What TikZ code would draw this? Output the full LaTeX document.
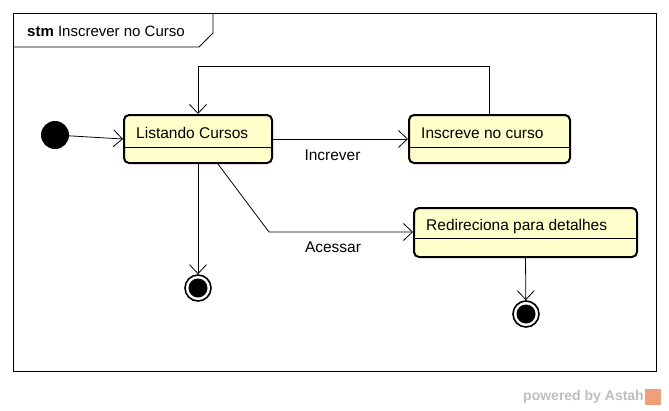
\documentclass[tikz,border=0pt]{standalone}
\usepackage{fontspec}
\setmainfont{Liberation Sans}
\usetikzlibrary{arrows.meta, positioning, calc}
\definecolor{kuningstate}{RGB}{255,255,204}
\definecolor{abuastah}{RGB}{190,190,190}
\definecolor{oranyeastah}{RGB}{240,160,120}

\begin{document}
\begin{tikzpicture}[x=1pt, y=-1pt, font=\fontsize{15.5}{18}\selectfont,
        state/.style={draw, line width=2pt, rounded corners=5pt, fill=kuningstate},
        initstate/.style={circle, fill=black, minimum size=28pt, inner sep=0pt},
        endstate/.style={circle, draw, line width=1.6pt, fill=white, minimum size=26pt, inner sep=0pt,
            path picture={\fill[black] (path picture bounding box.center) circle (9.5);}},
        trans/.style={-{Straight Barb[length=9pt, width=17pt]}, line width=0.8pt},
        translabel/.style={below=6pt, xshift=-8pt}]
        \useasboundingbox (0,0) rectangle (669,410);
        % frame
        \draw[line width=0.8pt] (13,13) rectangle (656,371);
        \draw[line width=0.8pt] (13,47) -- (199,47) -- (213,33) -- (213,13);
        \node[anchor=west, inner sep=0pt, font=\fontsize{15}{18}\selectfont] (judul) at (27,31) {\textbf{stm} Inscrever no Curso};
        % states
        \node[initstate] (awal) at (55,135) {};
        \foreach \nm/\cx/\cy/\w/\h/\dv/\lbl in {
            listando/198/139/148/48/8/{Listando Cursos},
            inscreve/489.5/139/161/48/8/{Inscreve no curso},
            redir/525.5/232.5/223/49/6/{Redireciona para detalhes}}
        {
            \node[state, minimum width=\w pt, minimum height=\h pt] (\nm) at (\cx,\cy) {};
            \draw[line width=0.8pt] ($(\nm.west)+(0,\dv)$) -- ($(\nm.east)+(0,\dv)$);
            \node[anchor=west, inner sep=0pt] at ($(\nm.north west)+(13,19)$) {\lbl};
        }
        \node[endstate] (akhir1) at (198,288) {};
        \node[endstate] (akhir2) at (526,314) {};
        \coordinate (belok) at (269,232);
        % transitions
        \draw[trans] (awal) -- (listando.west);
        \draw[trans] (listando) -- node[translabel, below=7pt] {Increver} (inscreve);
        \draw[trans] (inscreve.north) -- ++(0,-48) -| (listando.north);
        \draw[trans] ($(listando.south)+(20,0)$) -- (belok) -- node[translabel] {Acessar} (redir.west |- belok);
        \draw[trans] (listando.south) -- (akhir1);
        \draw[trans] (redir.south) -- (akhir2);
        % footer
        \node[anchor=east, inner sep=0pt, text=abuastah, font=\fontsize{14}{16}\selectfont\bfseries] (astah) at (644,397) {powered by Astah};
        \node[fill=oranyeastah, minimum size=16pt, inner sep=0pt, right=1pt of astah] (logo) {};
    \end{tikzpicture}
\end{document}
